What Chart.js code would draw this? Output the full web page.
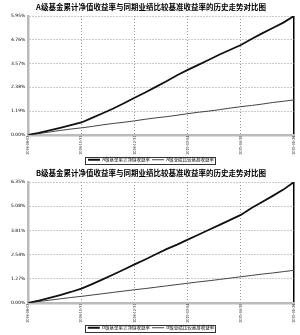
<!DOCTYPE html>
<html>
<head>
<meta charset="utf-8">
<script src="https://cdn.jsdelivr.net/npm/chart.js@4.4.0/dist/chart.umd.min.js"></script>
<style>
  body { margin: 0; background: #fff; overflow: hidden; }
  .box { position: absolute; left: 0; width: 300px; }
</style>
</head>
<body>
<div class="box" style="top:0;height:173px"><canvas id="chartA" width="300" height="173"></canvas></div>
<div class="box" style="top:166px;height:175px"><canvas id="chartB" width="300" height="175"></canvas></div>
<script>
// dates on the x axis (only the labelled ones are shown)
const datas = ['2018-08-03', '', '', '', '', '2018-10-31', '', '', '', '', '2018-12-31', '', '', '', '',
  '2019-03-04', '', '', '', '', '2019-04-30', '', '', '', '', '2019-06-28']

// A classe
const fundoA = [0, 0.10, 0.22, 0.35, 0.48, 0.62, 0.85, 1.08, 1.32, 1.58, 1.86, 2.12, 2.40,
  2.68, 2.98, 3.25, 3.50, 3.76, 4.02, 4.26, 4.50, 4.80, 5.08, 5.35, 5.62, 5.95]
const benchA = [0, 0.07, 0.14, 0.22, 0.29, 0.35, 0.42, 0.50, 0.57, 0.63, 0.70, 0.78, 0.85,
  0.91, 0.98, 1.06, 1.13, 1.19, 1.26, 1.34, 1.41, 1.47, 1.54, 1.62, 1.68, 1.75]
const ticksA = [0, 1.19, 2.38, 3.57, 4.76, 5.95]

// B classe
const fundoB = [0, 0.12, 0.26, 0.41, 0.57, 0.75, 0.98, 1.23, 1.49, 1.75, 2.02, 2.28, 2.55,
  2.82, 3.06, 3.32, 3.58, 3.84, 4.10, 4.36, 4.62, 4.98, 5.30, 5.62, 5.95, 6.35]
const benchB = [0, 0.07, 0.14, 0.21, 0.28, 0.34, 0.41, 0.48, 0.55, 0.62, 0.69, 0.75, 0.82,
  0.89, 0.96, 1.03, 1.10, 1.16, 1.23, 1.30, 1.37, 1.44, 1.51, 1.57, 1.64, 1.71]
const ticksB = [0, 1.27, 2.54, 3.81, 5.08, 6.35]

const tituloA = 'A级基金累计净值收益率与同期业绩比较基准收益率的历史走势对比图'
const tituloB = 'B级基金累计净值收益率与同期业绩比较基准收益率的历史走势对比图'

// box around the legend
const caixaLegenda = {
  id: 'caixaLegenda',
  afterDraw(chart) {
    const boxes = chart.legend.legendHitBoxes
    if (!boxes || !boxes.length) return
    let x1 = Infinity, x2 = -Infinity, y1 = Infinity, y2 = -Infinity
    boxes.forEach(b => {
      x1 = Math.min(x1, b.left); x2 = Math.max(x2, b.left + b.width)
      y1 = Math.min(y1, b.top); y2 = Math.max(y2, b.top + b.height)
    })
    const ctx = chart.ctx
    ctx.save()
    ctx.strokeStyle = '#333'
    ctx.lineWidth = 1
    ctx.strokeRect(Math.round(x1 - 3) + 0.5, Math.round(y1 - 1) + 0.5, Math.round(x2 - x1 + 4), Math.round(y2 - y1 + 2))
    ctx.restore()
  }
}

function loadGrafico(id, titulo, fundo, bench, ticks, classe) {
  const ctx = document.getElementById(id).getContext('2d')
  return new Chart(ctx, {
    type: 'line',
    data: {
      labels: datas,
      datasets: [
        {
          label: classe + '级基金累计净值收益率',
          data: fundo,
          borderColor: '#111',
          borderWidth: 1.8,
          pointRadius: 0,
          tension: 0,
          fill: false
        },
        {
          label: classe + '级业绩比较基准收益率',
          data: bench,
          borderColor: '#444',
          borderWidth: 1,
          pointRadius: 0,
          tension: 0,
          fill: false
        }
      ]
    },
    options: {
      responsive: false,
      animation: false,
      layout: { padding: { left: 8, right: 6, top: 1, bottom: 1 } },
      plugins: {
        title: {
          display: true,
          text: titulo,
          color: '#000',
          font: { family: '"Noto Sans CJK SC"', size: 7.5, weight: 'bold' },
          padding: { top: 2, bottom: 4 }
        },
        legend: {
          position: 'bottom',
          labels: {
            color: '#000',
            font: { family: '"Noto Sans CJK SC"', size: 4.5 },
            usePointStyle: true,
            pointStyle: 'line',
            pointStyleWidth: 12,
            boxWidth: 12,
            boxHeight: 4,
            padding: 2
          }
        },
        tooltip: { enabled: false }
      },
      scales: {
        x: {
          afterBuildTicks: scale => {
            scale.ticks = scale.ticks.filter(t => datas[t.value] !== '')
          },
          ticks: {
            autoSkip: false,
            maxRotation: 90,
            minRotation: 90,
            color: '#000',
            padding: 1,
            font: { family: '"Liberation Sans Narrow"', size: 4 }
          },
          grid: {
            drawTicks: false,
            color: c => c.index === ticks.length - 1 ? '#000' : '#999',
            lineWidth: c => c.index === ticks.length - 1 ? 1.5 : 1
          },
          border: {
            color: '#bbb',
            width: 2.5,
            dash: c => c.index === ticks.length - 1 ? [] : [1, 2]
          }
        },
        y: {
          min: 0,
          max: ticks[ticks.length - 1],
          afterBuildTicks: scale => {
            scale.ticks = ticks.map(v => ({ value: v }))
          },
          ticks: {
            color: '#000',
            padding: 3,
            font: { family: 'DejaVu Sans', size: 4.5 },
            callback: v => v.toFixed(2) + '%'
          },
          grid: {
            drawTicks: false,
            color: '#999'
          },
          border: {
            color: '#bbb',
            width: 2.5,
            dash: [1, 2]
          }
        }
      }
    },
    plugins: [caixaLegenda]
  })
}

loadGrafico('chartA', tituloA, fundoA, benchA, ticksA, 'A')
loadGrafico('chartB', tituloB, fundoB, benchB, ticksB, 'B')
</script>
</body>
</html>
